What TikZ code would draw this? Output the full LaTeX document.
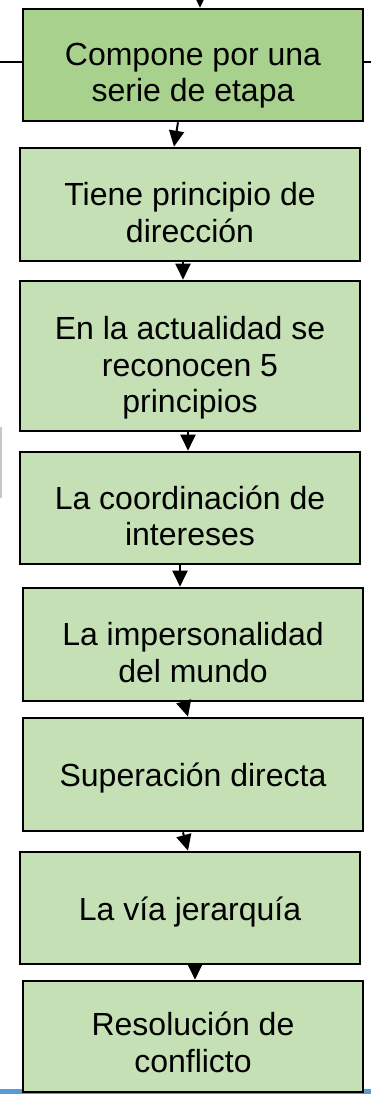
\documentclass[tikz,border=0pt]{standalone}
\usepackage{fontspec}
\setmainfont{Liberation Sans}
\usepackage{tikz}
\usetikzlibrary{arrows.meta}
\definecolor{verdeosc}{HTML}{A9D18E}
\definecolor{verdecla}{HTML}{C5E0B4}
\definecolor{azulbarra}{HTML}{5B9BD5}
\definecolor{grislinea}{HTML}{C8C8C8}
\newcommand{\texto}[2][-12pt]{\raisebox{#1}[\height][\depth]{\begin{tabular}{@{}c@{}}#2\end{tabular}}}
\begin{document}
\begin{tikzpicture}[x=1pt,y=-1pt,
    etapa/.style={draw=black, line width=2.6pt, fill=verdecla,
      minimum width=340pt, inner sep=0pt,
      font=\fontsize{32}{36.5}\selectfont},
    flecha/.style={line width=2pt, -{Triangle[length=16pt,width=15pt]}}]
          \useasboundingbox (0,0) rectangle (371,1094);
          \clip (0,0) rectangle (371,1094);

          \fill [azulbarra] (0,1089) rectangle (371,1094); % Draws the bottom bar
          \draw [grislinea, line width=2pt] (0.8,427) -- (0.8,498);

          \node (b1) [etapa, fill=verdeosc, minimum height=112pt] at (193,65) {\texto[-11pt]{Compone por una\\serie de etapa}}; % Draws a rectangle
          \node (b2) [etapa, minimum height=113pt] at (190,204.5) {\texto{Tiene principio de\\dirección}}; % Draws a rectangle
          \node (b3) [etapa, minimum height=150pt] at (190,356) {\texto[-13pt]{En la actualidad se\\reconocen 5\\principios}}; % Draws a rectangle
          \node (b4) [etapa, minimum height=112pt] at (190,508) {\texto{La coordinación de\\intereses}}; % Draws a rectangle
          \node (b5) [etapa, minimum height=113pt] at (193,644.5) {\texto{La impersonalidad\\del mundo}}; % Draws a rectangle
          \node (b6) [etapa, minimum height=113pt] at (193,774.5) {\texto[-5pt]{Superación directa}}; % Draws a rectangle
          \node (b7) [etapa, minimum height=112pt] at (190,908) {\texto[-5pt]{La vía jerarquía}}; % Draws a rectangle
          \node (b8) [etapa, minimum height=111pt] at (193,1036.5) {\texto[-10pt]{Resolución de\\conflicto}}; % Draws a rectangle

          \coordinate (arriba) at (200,-10);
          \coordinate (izq) at (-5,62.5);
          \coordinate (der) at (376,62.5);

          \draw [flecha] (arriba) -- ([xshift=7pt]b1.north);
          \draw [line width=2pt] (izq) -- (izq -| b1.west);
          \draw [line width=2pt] (b1.east |- der) -- (der);

          \draw [flecha] ([xshift=-15pt]b1.south) -- ([xshift=-16pt]b2.north);
          \draw [flecha] ([xshift=-7pt]b2.south) -- ([xshift=-7pt]b3.north);
          \draw [flecha] ([xshift=-2pt]b3.south) -- ([xshift=-2pt]b4.north);
          \draw [flecha] ([xshift=-10pt]b4.south) -- ([xshift=-13pt]b5.north);
          \draw [flecha] ([xshift=-9pt]b5.south) -- ([xshift=-5pt]b6.north);
          \draw [flecha] ([xshift=-10pt]b6.south) -- ([xshift=-2pt]b7.north);
          \draw [flecha] ([xshift=5pt]b7.south) -- ([xshift=2pt]b8.north);
        \end{tikzpicture}
\end{document}
